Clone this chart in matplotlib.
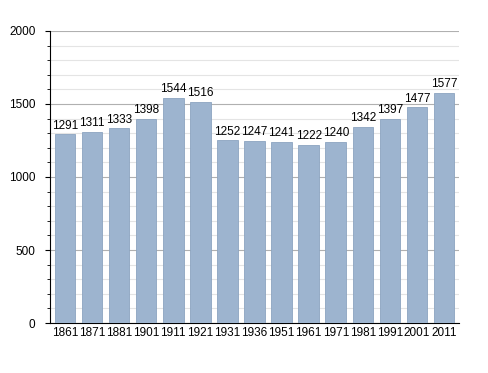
import matplotlib
matplotlib.use("Agg")
import matplotlib.pyplot as plt
from matplotlib.ticker import MultipleLocator

years = ["1861", "1871", "1881", "1901", "1911", "1921", "1931", "1936",
         "1951", "1961", "1971", "1981", "1991", "2001", "2011"]
population = [1291, 1311, 1333, 1398, 1544, 1516, 1252, 1247,
              1241, 1222, 1240, 1342, 1397, 1477, 1577]

plt.rcParams["font.family"] = ["Liberation Sans", "DejaVu Sans"]

fig = plt.figure(figsize=(4.88, 3.73), dpi=100)
ax = fig.add_axes([0.1025, 0.134, 0.838, 0.783])

x = range(len(years))
ax.bar(x, population, width=0.76, color="#9db4cf",
       edgecolor="#8ca4c0", linewidth=0.6, zorder=3)

for xi, val in zip(x, population):
    ax.text(xi, val + 18, str(val), ha="center", va="bottom", fontsize=8.5,
            color="black", zorder=4)

ax.set_xlim(-0.55, len(years) - 0.45)
ax.set_ylim(0, 2000)
ax.set_xticks(list(x))
ax.set_xticklabels(years, fontsize=8.5)
ax.yaxis.set_major_locator(MultipleLocator(500))
ax.yaxis.set_minor_locator(MultipleLocator(100))
ax.tick_params(axis="y", labelsize=8.5, length=3.5, width=0.8, pad=7)
ax.tick_params(axis="y", which="minor", length=2.5, width=0.6)
ax.tick_params(axis="x", length=0, pad=3)

ax.grid(axis="y", which="major", color="#b0b0b0", linewidth=0.8, zorder=0)
ax.grid(axis="y", which="minor", color="#e4e4e4", linewidth=0.8, zorder=0)
ax.set_axisbelow(True)

for side in ["top", "right"]:
    ax.spines[side].set_visible(False)
ax.spines["left"].set_linewidth(0.8)
ax.spines["bottom"].set_linewidth(0.8)

fig.savefig("out.png", dpi=100)
